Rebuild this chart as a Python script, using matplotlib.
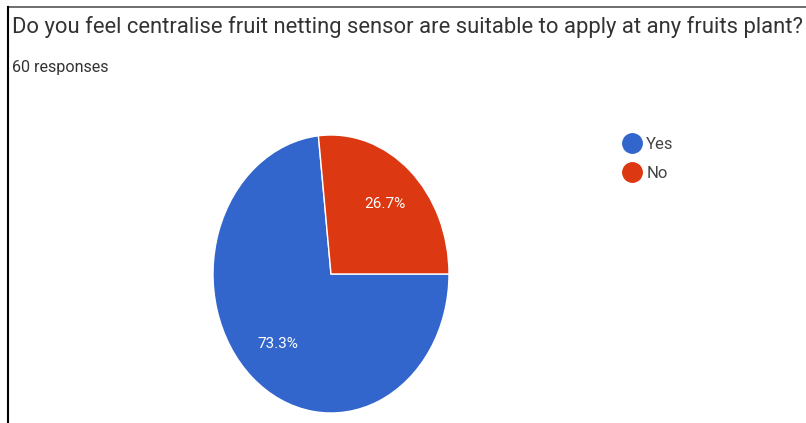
import matplotlib
matplotlib.use('Agg')
import matplotlib.pyplot as plt
from matplotlib.lines import Line2D

# survey data
title = 'Do you feel centralise fruit netting sensor are suitable to apply at any fruits plant?'
subtitle = '60 responses'
labels = ['Yes', 'No']
shares = [73.3, 26.7]
colors = ['#3366CC', '#DC3912']

W, H = 806, 423
fig = plt.figure(figsize=(W / 100, H / 100), dpi=100)
fonts = ['Roboto', 'DejaVu Sans']

# pie is stretched vertically like the screenshot
cx, cy, rx, ry = 331, 274, 118, 139
ax = fig.add_axes([(cx - rx) / W, (H - cy - ry) / H, 2 * rx / W, 2 * ry / H])
wedges, _, autotexts = ax.pie(shares, colors=colors, startangle=0, counterclock=False,
                              autopct='%1.1f%%', pctdistance=0.68,
                              wedgeprops=dict(edgecolor='white', linewidth=1))
for t in autotexts:
    t.set_color('white')
    t.set_fontsize(11)
    t.set_family(fonts)
ax.set_aspect('auto')
ax.set_xlim(-1, 1)
ax.set_ylim(-1, 1)
ax.axis('off')

fig.text(12 / W, 1 - 33 / H, title, fontsize=15.8, color='#333333', family=fonts, va='baseline')
fig.text(12 / W, 1 - 72 / H, subtitle, fontsize=11.6, color='#333333', family=fonts, va='baseline')

handles = [Line2D([], [], marker='o', ls='', color=c, markersize=14) for c in colors]
fig.legend(handles, labels, loc='upper left', bbox_to_anchor=(607 / W, 1 - 122 / H),
           frameon=False, labelspacing=0.85, handletextpad=0.25,
           handlelength=1.2, prop={'family': fonts, 'size': 12}, labelcolor='#444444')

# screenshot frame lines
fig.add_artist(Line2D([8 / W, 1], [1 - 7 / H, 1 - 7 / H], color='#555555', lw=1.2))
fig.add_artist(Line2D([8 / W, 8 / W], [0, 1 - 7 / H], color='black', lw=1.5))

fig.savefig('out.png', dpi=100, facecolor='white')
